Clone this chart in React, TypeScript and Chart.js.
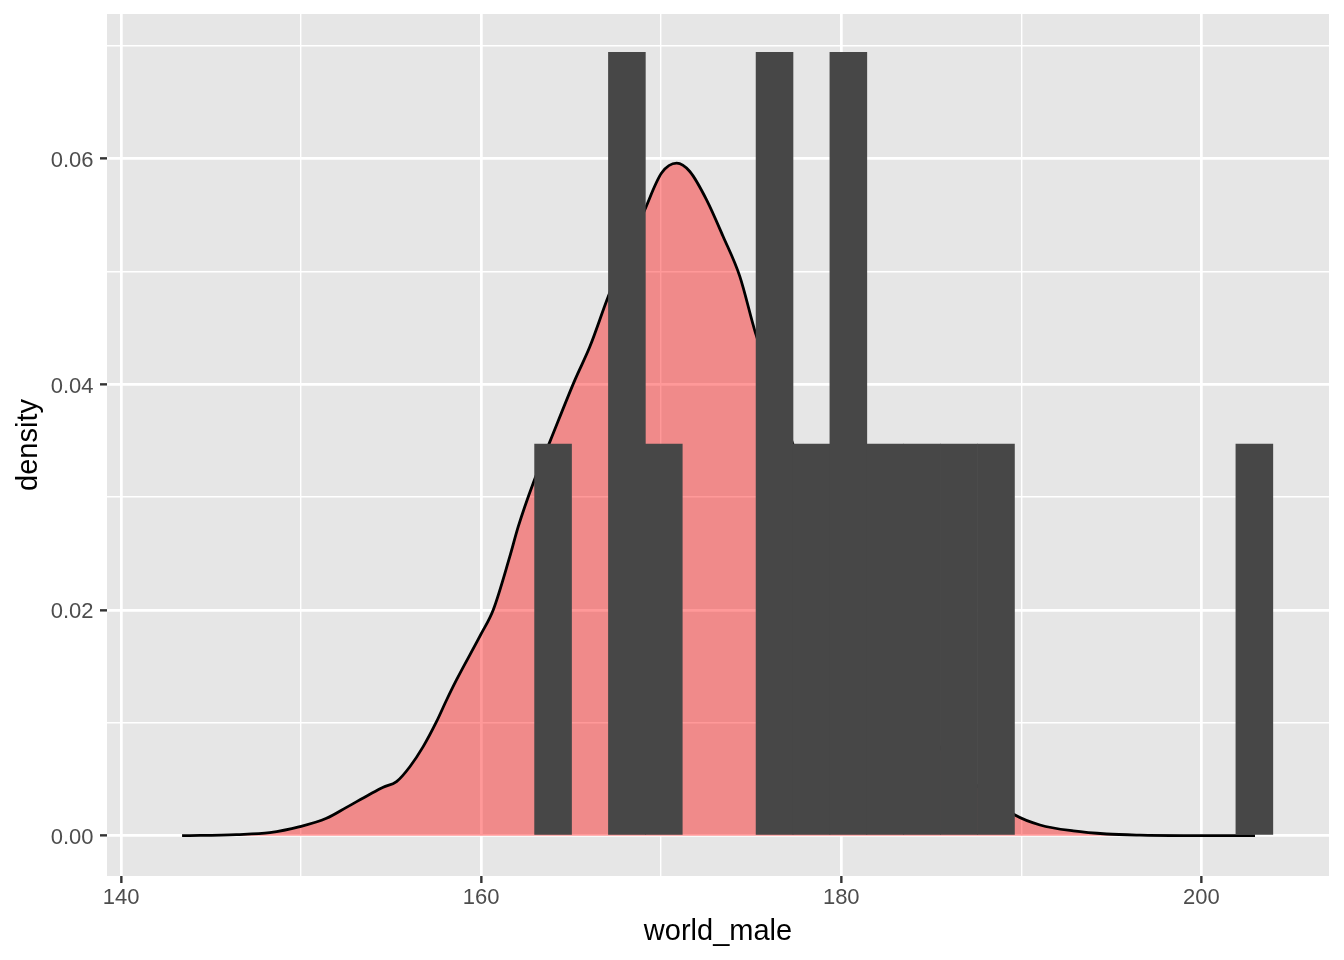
import React, { useEffect, useRef } from "react";
import { Chart, registerables } from "chart.js";

Chart.register(...registerables);

// Histogram bins (centres) and their density heights
const binCenters = [
  143.495, 145.545, 147.595, 149.645, 151.695, 153.745, 155.795, 157.845, 159.895, 161.945,
  163.995, 166.045, 168.095, 170.145, 172.195, 174.245, 176.295, 178.345, 180.395, 182.445,
  184.495, 186.545, 188.595, 190.645, 192.695, 194.745, 196.795, 198.845, 200.895, 202.945,
];
const binDensity = [
  0, 0, 0, 0, 0, 0, 0, 0, 0, 0,
  0.0347, 0, 0.0694, 0.0347, 0, 0, 0.0694, 0.0347, 0.0694, 0.0347,
  0.0347, 0.0347, 0.0347, 0, 0, 0, 0, 0, 0, 0.0347,
];

// Kernel density curve
const curveX = [
  143.39, 146.41, 148.26, 149.93, 151.41, 152.52, 153.82, 154.56, 155.3, 156.04,
  156.78, 157.52, 158.08, 158.63, 160.02, 160.67, 161.59, 162.06, 162.89, 163.82,
  165.21, 166.04, 167.06, 168.1, 169.09, 170.02, 170.86, 171.59, 172.52, 173.44,
  174.37, 175.24, 176.3, 177.29, 178.5, 180.0, 182.0, 184.0, 186.0, 188.0,
  189.65, 191.04, 192.89, 194.74, 196.59, 199.0, 202.98,
];
const curveY = [
  0.0, 0.0001, 0.00027, 0.0008, 0.00154, 0.00251, 0.00367, 0.00429, 0.00479, 0.00611,
  0.00789, 0.0101, 0.01202, 0.0138, 0.01794, 0.02, 0.02472, 0.02738, 0.03123, 0.03491,
  0.04038, 0.04333, 0.04776, 0.0517, 0.05545, 0.0587, 0.05958, 0.05884, 0.05633, 0.05308,
  0.04953, 0.04452, 0.0397, 0.0348, 0.0298, 0.0242, 0.0172, 0.0113, 0.0068, 0.0038,
  0.00183, 0.00095, 0.00042, 0.00015, 0.00005, 0.00001, 0.0,
];

const xTicks = [140, 150, 160, 170, 180, 190, 200];
const xMajorTicks = [140, 160, 180, 200];
const yTicks = [0, 0.01, 0.02, 0.03, 0.04, 0.05, 0.06, 0.07];
const yMajorTicks = [0, 0.02, 0.04, 0.06];

const xTitle = "world_male";
const yTitle = "density";

const FONT = '"Liberation Sans", Arial, Helvetica, sans-serif';

const isXMajor = (v: number) => xMajorTicks.some((m) => Math.abs(m - v) < 1e-6);
const isYMajor = (v: number) => yMajorTicks.some((m) => Math.abs(m - v) < 1e-9);

const panelBg = {
  id: "panelBg",
  beforeDraw(chart: any) {
    const { ctx, chartArea } = chart;
    if (!chartArea) return;
    ctx.save();
    ctx.fillStyle = "#E6E6E6";
    ctx.fillRect(chartArea.left, chartArea.top, chartArea.right - chartArea.left, chartArea.bottom - chartArea.top);
    ctx.restore();
  },
};

export default function App() {
  const ref = useRef<HTMLCanvasElement | null>(null);

  useEffect(() => {
    document.body.style.margin = "0";
    const canvas = ref.current;
    if (!canvas) return;

    const chart = new Chart(canvas, {
      type: "bar",
      data: {
        datasets: [
          {
            type: "bar",
            data: binCenters.map((x, i) => ({ x, y: binDensity[i] })),
            backgroundColor: (c: any) => (c.raw && c.raw.y > 0 ? "#474747" : "rgba(0,0,0,0)"),
            borderWidth: 0,
            barPercentage: 1,
            categoryPercentage: 1,
            order: 0,
          } as any,
          {
            type: "line",
            data: curveX.map((x, i) => ({ x, y: curveY[i] })),
            borderColor: "#000000",
            borderWidth: 2.8,
            pointRadius: 0,
            fill: "origin",
            backgroundColor: "rgba(255,0,0,0.4)",
            cubicInterpolationMode: "monotone",
            order: 1,
          } as any,
        ],
      },
      options: {
        responsive: false,
        animation: false,
        devicePixelRatio: 1,
        layout: { padding: { top: 14, right: 15, left: 0, bottom: 0 } },
        plugins: {
          legend: { display: false },
          tooltip: { enabled: false },
        },
        scales: {
          x: {
            type: "linear",
            min: 139.22,
            max: 207.09,
            offset: false,
            border: { display: false },
            grid: {
              offset: false,
              color: "#FFFFFF",
              lineWidth: (c: any) => (c.tick && isXMajor(c.tick.value) ? 2.7 : 1.4),
              drawTicks: true,
              tickLength: 7,
              tickColor: (c: any) => (c.tick && isXMajor(c.tick.value) ? "#333333" : "rgba(0,0,0,0)"),
              tickWidth: 2.4,
            },
            ticks: {
              autoSkip: false,
              maxRotation: 0,
              padding: 2,
              color: "#4D4D4D",
              font: { family: FONT, size: 22 },
              callback: (v: any) => (isXMajor(Number(v)) ? String(Math.round(Number(v))) : ""),
            },
            title: {
              display: true,
              text: xTitle,
              color: "#000000",
              font: { family: FONT, size: 29 },
              padding: { top: 0, bottom: 11 },
            },
            afterBuildTicks: (scale: any) => {
              scale.ticks = xTicks.map((v) => ({ value: v }));
            },
            afterFit: (scale: any) => {
              scale.height = 84;
              scale.paddingLeft = 0;
              scale.paddingRight = 0;
              scale.paddingTop = 0;
              scale.paddingBottom = 0;
            },
          } as any,
          y: {
            type: "linear",
            min: -0.00357,
            max: 0.07279,
            border: { display: false },
            grid: {
              color: "#FFFFFF",
              lineWidth: (c: any) => (c.tick && isYMajor(c.tick.value) ? 2.7 : 1.4),
              drawTicks: true,
              tickLength: 7,
              tickColor: (c: any) => (c.tick && isYMajor(c.tick.value) ? "#333333" : "rgba(0,0,0,0)"),
              tickWidth: 2.4,
            },
            ticks: {
              autoSkip: false,
              padding: 6.5,
              labelOffset: 2.5,
              color: "#4D4D4D",
              font: { family: FONT, size: 22 },
              callback: (v: any) => (isYMajor(Number(v)) ? Number(v).toFixed(2) : ""),
            },
            title: {
              display: true,
              text: yTitle,
              color: "#000000",
              font: { family: FONT, size: 29 },
              padding: { top: 12, bottom: 0 },
            },
            afterBuildTicks: (scale: any) => {
              scale.ticks = yTicks.map((v) => ({ value: v }));
            },
            afterFit: (scale: any) => {
              scale.width = 107;
              scale.paddingLeft = 0;
              scale.paddingRight = 0;
              scale.paddingTop = 0;
              scale.paddingBottom = 0;
            },
          } as any,
        },
      },
      plugins: [panelBg],
    });

    return () => {
      chart.destroy();
    };
  }, []);

  return (
    <div style={{ position: "absolute", left: 0, top: 0, width: 1344, height: 960 }}>
      <canvas ref={ref} width={1344} height={960} style={{ display: "block", width: 1344, height: 960 }} />
    </div>
  );
}
